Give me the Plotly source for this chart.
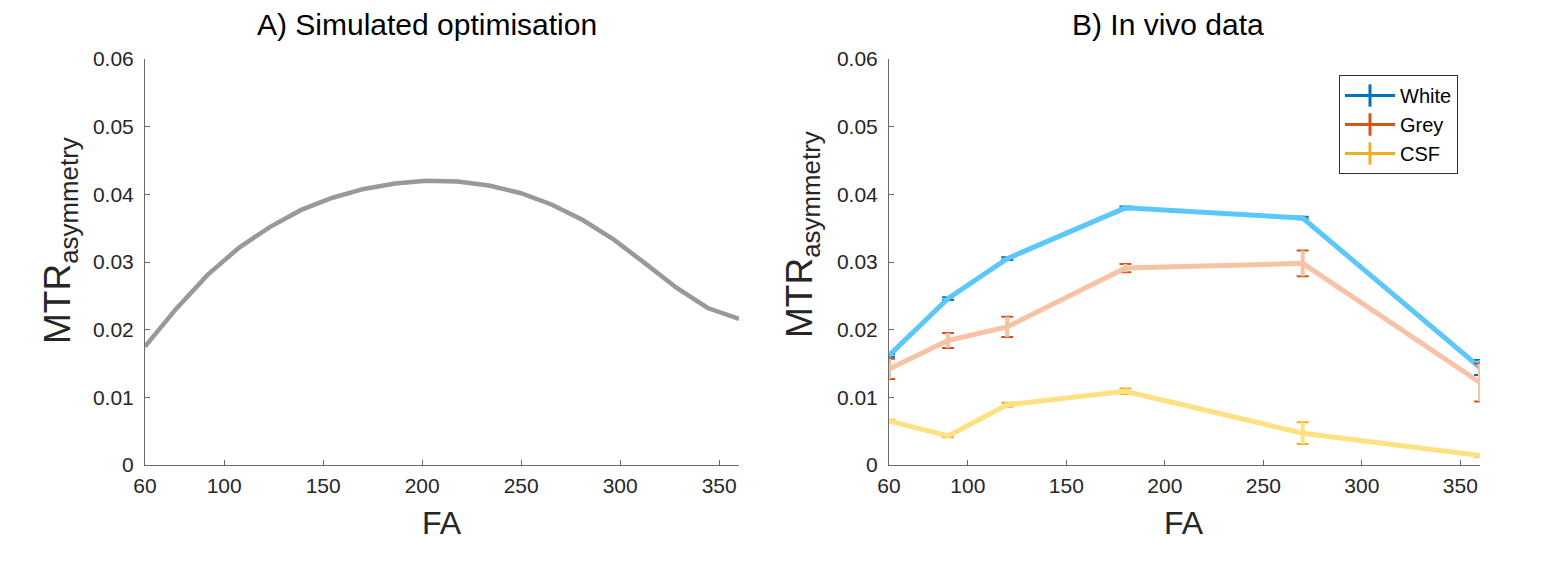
import plotly.graph_objects as go

# ---------------- data ----------------
fa_sim = [60, 75.8, 91.6, 107.4, 123.2, 138.9, 154.7, 170.5, 186.3, 202.1,
          217.9, 233.7, 249.5, 265.3, 281.1, 296.8, 312.6, 328.4, 344.2, 360]
mtr_sim = [0.0175, 0.0231, 0.0281, 0.0321, 0.0352, 0.0377, 0.0395, 0.0408, 0.0416, 0.0420,
           0.0419, 0.0413, 0.0402, 0.0385, 0.0362, 0.0333, 0.0298, 0.0262, 0.0232, 0.0216]

fa_vivo = [60, 90, 120, 180, 270, 360]
white_mean = [0.0162, 0.0246, 0.0305, 0.0380, 0.0365, 0.0144]
white_err = [0.0002, 0.0002, 0.0002, 0.0002, 0.0002, 0.0011]
grey_mean = [0.0142, 0.0184, 0.0204, 0.0291, 0.0298, 0.0122]
grey_err = [0.0015, 0.0011, 0.0015, 0.0006, 0.0019, 0.0028]
csf_mean = [0.0065, 0.0043, 0.0089, 0.0109, 0.0047, 0.0014]
csf_err = [0.0002, 0.0002, 0.0003, 0.0004, 0.0016, 0.0002]

series_names = ["White", "Grey", "CSF"]
line_colors = ["#5BC7FA", "#F7C3A5", "#FFE083"]
bar_colors = ["#0072BD", "#D95319", "#EDB120"]

x_ticks = [60, 100, 150, 200, 250, 300, 350]
y_ticks = [0, 0.01, 0.02, 0.03, 0.04, 0.05, 0.06]
y_ticklabels = ["0", "0.01", "0.02", "0.03", "0.04", "0.05", "0.06"]
titles = ["A) Simulated optimisation", "B) In vivo data"]

# ---------------- figure ----------------
W, H = 1553, 565
OFF = 8  # page body margin
FONT = "Liberation Sans, Arial, Helvetica, sans-serif"
TXT = "#262626"
AX = "#6b6b6b"

fig = go.Figure()

fig.add_trace(go.Scatter(x=fa_sim, y=mtr_sim, mode="lines",
                         line=dict(color="#999999", width=4.5),
                         showlegend=False, xaxis="x", yaxis="y", cliponaxis=False))

means = [white_mean, grey_mean, csf_mean]
errs = [white_err, grey_err, csf_err]
for name, m, e, lc, bc in zip(series_names, means, errs, line_colors, bar_colors):
    fig.add_trace(go.Scatter(x=fa_vivo, y=m, mode="none",
                             error_y=dict(type="data", array=e, color=bc,
                                          thickness=2, width=6, visible=True),
                             showlegend=False, xaxis="x2", yaxis="y2", cliponaxis=False,
                             hoverinfo="skip"))
    fig.add_trace(go.Scatter(x=fa_vivo, y=m, mode="lines",
                             line=dict(color=lc, width=5),
                             error_y=dict(type="data", array=e, color=lc,
                                          thickness=4, width=0, visible=True),
                             showlegend=False, xaxis="x2", yaxis="y2", cliponaxis=False,
                             name=name))

for name, bc in zip(series_names, bar_colors):
    fig.add_trace(go.Scatter(x=[None], y=[None], mode="lines+markers", name=name,
                             line=dict(color=bc, width=3),
                             marker=dict(symbol="line-ns-open", size=18,
                                         line=dict(color=bc, width=3)),
                             xaxis="x2", yaxis="y2"))

px = lambda v: (v - OFF) / W
py = lambda v: 1 - (v - OFF) / H

x_dom1 = [px(145), px(739)]
x_dom2 = [px(889), px(1480)]
y_dom = [py(465), py(59)]

xaxis_common = dict(range=[60, 360], tickvals=x_ticks, ticktext=[str(t) for t in x_ticks],
                    ticks="inside", ticklen=5, tickcolor=AX, tickwidth=1,
                    showline=True, linecolor=AX, linewidth=1, mirror=False,
                    showgrid=False, zeroline=False, fixedrange=True, automargin=False,
                    tickfont=dict(family=FONT, size=21, color=TXT),
                    ticklabelstandoff=2)
yaxis_common = dict(range=[0, 0.06], tickvals=y_ticks, ticktext=y_ticklabels,
                    ticks="inside", ticklen=5, tickcolor=AX, tickwidth=1,
                    showline=True, linecolor=AX, linewidth=1, mirror=False,
                    showgrid=False, zeroline=False, fixedrange=True, automargin=False,
                    tickfont=dict(family=FONT, size=21, color=TXT),
                    ticklabelstandoff=6)

annotations = []
for title, cx in zip(titles, [427, 1168]):
    annotations.append(dict(text=title, x=px(cx), y=py(25), xref="paper", yref="paper",
                            xanchor="center", yanchor="middle", showarrow=False,
                            font=dict(family=FONT, size=30, color="#000000")))
for cx in [442, 1184]:
    annotations.append(dict(text="FA", x=px(cx), y=py(523), xref="paper", yref="paper",
                            xanchor="center", yanchor="middle", showarrow=False,
                            font=dict(family=FONT, size=32, color=TXT)))
for cx, cy in [(60, 240), (802, 235)]:
    annotations.append(dict(text="MTR<sub>asymmetry</sub>",
                            x=px(cx), y=py(cy),
                            xref="paper", yref="paper", textangle=-90,
                            xanchor="center", yanchor="middle", showarrow=False,
                            font=dict(family=FONT, size=37, color=TXT)))

fig.update_layout(
    width=W, height=H,
    margin=dict(l=0, r=0, t=0, b=0, pad=0, autoexpand=False),
    paper_bgcolor="white", plot_bgcolor="white",
    xaxis=dict(domain=x_dom1, anchor="y", **xaxis_common),
    yaxis=dict(domain=y_dom, anchor="x", **yaxis_common),
    xaxis2=dict(domain=x_dom2, anchor="y2", **xaxis_common),
    yaxis2=dict(domain=y_dom, anchor="x2", **yaxis_common),
    legend=dict(x=px(1339), y=py(75), xanchor="left", yanchor="top",
                bgcolor="white", bordercolor="#333333", borderwidth=1,
                font=dict(family=FONT, size=20, color="#000000"),
                tracegroupgap=0, itemwidth=50),
    annotations=annotations,
    showlegend=True,
)

fig.write_html("out.html")
